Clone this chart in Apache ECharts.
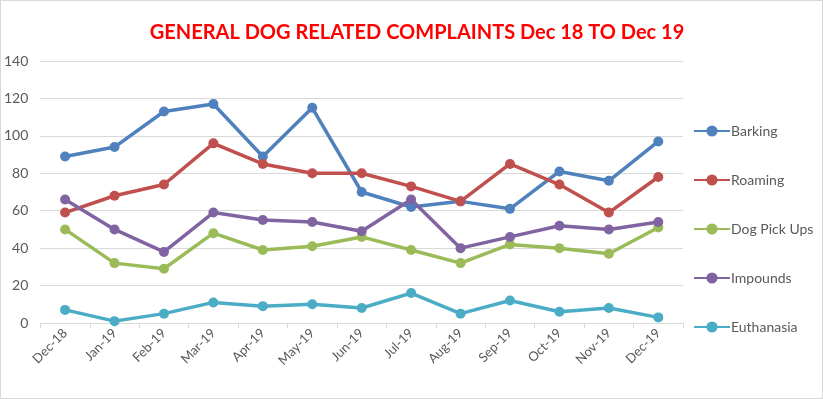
<!DOCTYPE html>
<html>
<head>
<meta charset="utf-8">
<script src="https://cdn.jsdelivr.net/npm/echarts@6/dist/echarts.min.js"></script>
<style>
  html, body { margin: 0; padding: 0; background: #fff; }
  #chart { width: 821px; height: 397px; border: 1px solid #d9d9d9; }
</style>
</head>
<body>
<div id="chart"></div>
<script>
var months = ['Dec-18', 'Jan-19', 'Feb-19', 'Mar-19', 'Apr-19', 'May-19', 'Jun-19',
  'Jul-19', 'Aug-19', 'Sep-19', 'Oct-19', 'Nov-19', 'Dec-19'];
var barking = [89, 94, 113, 117, 89, 115, 70, 62, 65, 61, 81, 76, 97];
var roaming = [59, 68, 74, 96, 85, 80, 80, 73, 65, 85, 74, 59, 78];
var pickUps = [50, 32, 29, 48, 39, 41, 46, 39, 32, 42, 40, 37, 51];
var impounds = [66, 50, 38, 59, 55, 54, 49, 66, 40, 46, 52, 50, 54];
var euthanasia = [7, 1, 5, 11, 9, 10, 8, 16, 5, 12, 6, 8, 3];

var chart = echarts.init(document.getElementById('chart'));

function line(name, data, color) {
  return {
    name: name,
    type: 'line',
    data: data,
    symbol: 'circle',
    symbolSize: 10,
    lineStyle: { width: 3.5, color: color },
    itemStyle: { color: color },
    emphasis: { disabled: true }
  };
}

chart.setOption({
  animation: false,
  textStyle: { fontFamily: 'Lato' },
  title: {
    text: 'GENERAL DOG RELATED COMPLAINTS Dec 18 TO Dec 19',
    left: 411,
    textAlign: 'center',
    top: 17,
    textStyle: { color: '#ff0000', fontSize: 20, fontWeight: 'bold', fontFamily: 'Lato' }
  },
  legend: {
    orient: 'vertical',
    left: 692,
    top: 123,
    padding: 0,
    itemWidth: 36,
    itemHeight: 14,
    itemGap: 35,
    textStyle: { color: '#595959', fontSize: 14, padding: [0, 0, 0, -4] },
    data: ['Barking', 'Roaming', 'Dog Pick Ups', 'Impounds', 'Euthanasia']
  },
  grid: { left: 39, right: 139, top: 60, bottom: 75 },
  xAxis: {
    type: 'category',
    data: months,
    boundaryGap: true,
    axisLine: { lineStyle: { color: '#d9d9d9', width: 1 } },
    axisTick: { show: true, alignWithLabel: false, length: 5, lineStyle: { color: '#d9d9d9' } },
    axisLabel: { rotate: 45, color: '#595959', fontSize: 13, margin: 8, interval: 0 }
  },
  yAxis: {
    type: 'value',
    min: 0,
    max: 140,
    interval: 20,
    axisLine: { show: false },
    axisTick: { show: false },
    splitLine: { lineStyle: { color: '#d9d9d9', width: 1 } },
    axisLabel: { color: '#595959', fontSize: 14, margin: 12 }
  },
  series: [
    line('Barking', barking, '#4f81bd'),
    line('Roaming', roaming, '#c0504d'),
    line('Dog Pick Ups', pickUps, '#9bbb59'),
    line('Impounds', impounds, '#8064a2'),
    line('Euthanasia', euthanasia, '#4bacc6')
  ]
});
</script>
</body>
</html>
